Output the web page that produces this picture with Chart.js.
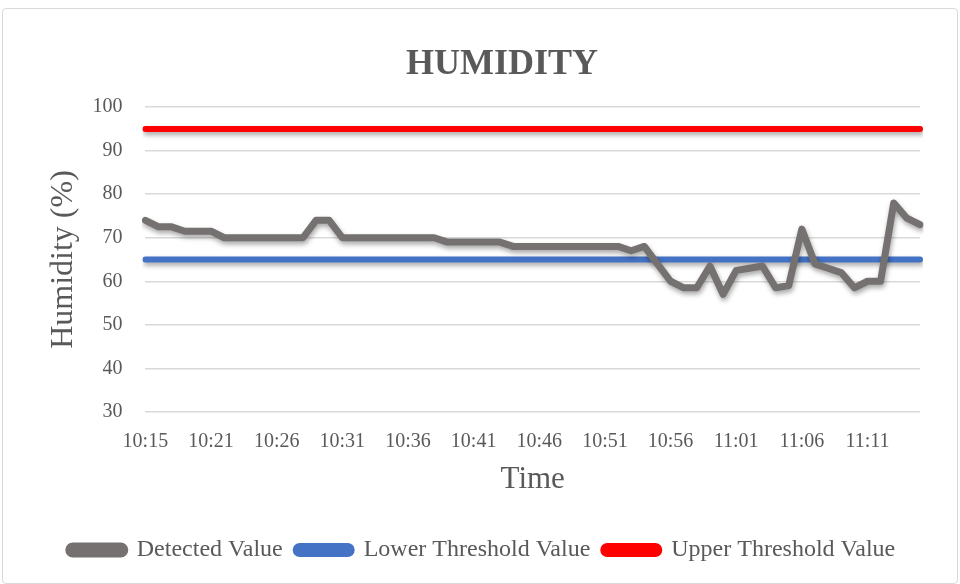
<!DOCTYPE html>
<html>
<head>
<meta charset="utf-8">
<script src="https://cdn.jsdelivr.net/npm/chart.js@4.4.1/dist/chart.umd.min.js"></script>
<style>
  html, body { margin: 0; padding: 0; background: #fff; }
  #wrap { position: absolute; left: 2px; top: 8px; width: 954px; height: 574px; border: 1px solid #d9d9d9; border-radius: 4px; }
  canvas { position: absolute; left: 0; top: 0; }
</style>
</head>
<body>
<div id="wrap"></div>
<canvas id="humidityChart" width="960" height="584"></canvas>
<script>
// time stamps, one per reading
const times = [
    '10:15', '10:16', '10:17', '10:18', '10:19', '10:21', '10:22', '10:23', '10:24', '10:25',
    '10:26', '10:27', '10:28', '10:29', '10:30', '10:31', '10:32', '10:33', '10:34', '10:35',
    '10:36', '10:37', '10:38', '10:39', '10:40', '10:41', '10:42', '10:43', '10:44', '10:45',
    '10:46', '10:47', '10:48', '10:49', '10:50', '10:51', '10:52', '10:53', '10:54', '10:55',
    '10:56', '10:57', '10:58', '10:59', '11:00', '11:01', '11:02', '11:03', '11:04', '11:05',
    '11:06', '11:07', '11:08', '11:09', '11:10', '11:11', '11:12', '11:13', '11:14', '11:15'
];

const detected = [
    74, 72.5, 72.5, 71.5, 71.5, 71.5, 70, 70, 70, 70,
    70, 70, 70, 74, 74, 70, 70, 70, 70, 70,
    70, 70, 70, 69, 69, 69, 69, 69, 68, 68,
    68, 68, 68, 68, 68, 68, 68, 67, 68, 64,
    60, 58.5, 58.5, 63.5, 57, 62.5, 63, 63.5, 58.5, 59,
    72, 64, 63, 62, 58.5, 60, 60, 78, 74.5, 73
];

const lowerThreshold = 65;
const upperThreshold = 95;

const yTicks = [30, 40, 50, 60, 70, 80, 90, 100];

const grey = '#595959';
const serif = "'Liberation Serif', 'Times New Roman', serif";

// soft drop shadow under the lines, like the office chart
const shadowPlugin = {
    id: 'lineShadow',
    beforeDatasetsDraw(chart) {
        const c = chart.ctx;
        c.save();
        c.shadowColor = 'rgba(0,0,0,0.35)';
        c.shadowBlur = 5;
        c.shadowOffsetX = 1;
        c.shadowOffsetY = 3;
    },
    afterDatasetsDraw(chart) {
        chart.ctx.restore();
    }
};

// title sits a bit right of the canvas centre in the original
const titlePlugin = {
    id: 'shiftedTitle',
    afterDraw(chart) {
        const t = chart.titleBlock;
        const c = chart.ctx;
        c.save();
        c.fillStyle = grey;
        c.font = 'bold 36px ' + serif;
        c.textAlign = 'center';
        c.textBaseline = 'middle';
        c.fillText('HUMIDITY', 502, t.top + t.height / 2 - 9);
        c.restore();
    }
};

const ctx = document.getElementById('humidityChart').getContext('2d');
const humidityChart = new Chart(ctx, {
    type: 'line',
    data: {
        labels: times,
        datasets: [
            {
                label: 'Detected Value',
                data: detected,
                borderColor: '#767171',
                backgroundColor: '#767171',
                borderWidth: 7,
                pointRadius: 0,
                tension: 0,
                borderJoinStyle: 'round',
                borderCapStyle: 'round',
            },
            {
                label: 'Lower Threshold Value',
                data: times.map(() => lowerThreshold),
                borderColor: '#4472C4',
                backgroundColor: '#4472C4',
                borderWidth: 6,
                pointRadius: 0,
                borderCapStyle: 'round',
            },
            {
                label: 'Upper Threshold Value',
                data: times.map(() => upperThreshold),
                borderColor: '#FF0000',
                backgroundColor: '#FF0000',
                borderWidth: 6,
                pointRadius: 0,
                borderCapStyle: 'round',
            },
        ],
    },
    options: {
        responsive: false,
        animation: false,
        layout: { padding: { left: 44, right: 40, top: 40, bottom: 12 } },
        plugins: {
            title: {
                display: true,
                text: 'HUMIDITY',
                color: 'rgba(0,0,0,0)',
                font: { family: serif, size: 36, weight: 'bold' },
                padding: { top: 0, bottom: 24 },
            },
            legend: {
                position: 'bottom',
                labels: {
                    color: grey,
                    font: { family: serif, size: 24 },
                    boxWidth: 56,
                    boxHeight: 8,
                    useBorderRadius: true,
                    borderRadius: 4,
                    padding: 13,
                },
            },
            tooltip: { enabled: false },
        },
        scales: {
            x: {
                offset: false,
                grid: { display: false },
                border: { display: false },
                ticks: {
                    color: grey,
                    font: { family: serif, size: 20 },
                    autoSkip: false,
                    maxRotation: 0,
                    padding: 10,
                    callback: function (val, i) {
                        return i % 5 === 0 && i < 56 ? times[i] : null;
                    },
                },
                title: {
                    display: true,
                    text: 'Time',
                    color: grey,
                    font: { family: serif, size: 31 },
                    padding: { top: -3, bottom: 27 },
                },
            },
            y: {
                min: 30,
                max: 100,
                afterBuildTicks: function (axis) {
                    axis.ticks = yTicks.map(v => ({ value: v }));
                },
                grid: { color: '#d9d9d9', lineWidth: 1.5, drawTicks: false },
                border: { display: false },
                ticks: {
                    color: grey,
                    font: { family: serif, size: 20 },
                    padding: 23,
                },
                title: {
                    display: true,
                    text: 'Humidity (%)',
                    color: grey,
                    font: { family: serif, size: 32 },
                    padding: { top: 0, bottom: -13 },
                },
            },
        },
    },
    plugins: [shadowPlugin, titlePlugin],
});
</script>
</body>
</html>
